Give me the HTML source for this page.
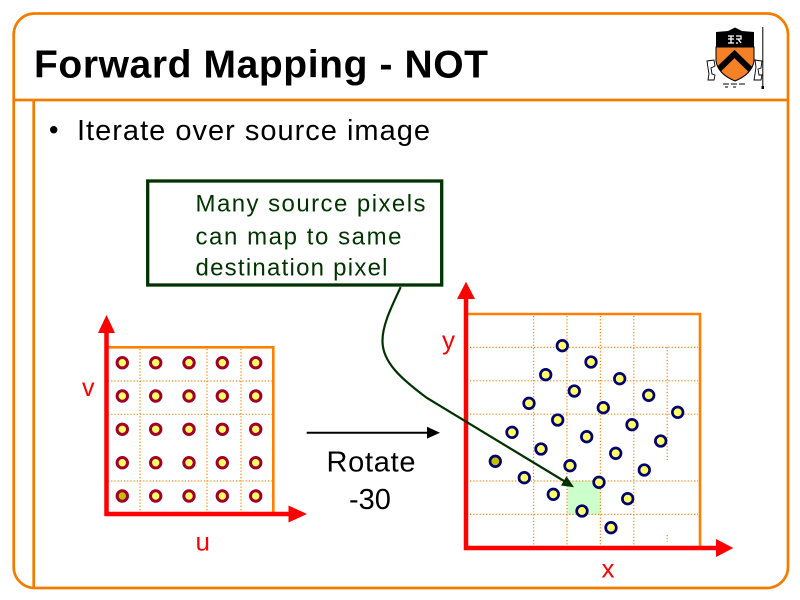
<!DOCTYPE html>
<html>
<head>
<meta charset="utf-8">
<style>
  html, body { margin: 0; padding: 0; background: #fff; }
  svg { display: block; }
  text { font-family: "Liberation Sans", Arial, sans-serif; }
</style>
</head>
<body>
<svg width="800" height="600" viewBox="0 0 800 600" xmlns="http://www.w3.org/2000/svg">
  <rect x="0" y="0" width="800" height="600" fill="#ffffff"/>

  <!-- Frame -->
  <rect x="13.7" y="13.5" width="774.3" height="574.5" rx="21" ry="21" fill="none" stroke="#F47C00" stroke-width="2.7"/>
  <line x1="13.7" y1="100" x2="788" y2="100" stroke="#F47C00" stroke-width="2.7"/>
  <line x1="33.7" y1="100" x2="33.7" y2="588" stroke="#F47C00" stroke-width="2.7"/>

  <!-- Title -->
  <text x="34" y="77.7" font-size="39" font-weight="bold" fill="#000" textLength="454" lengthAdjust="spacing">Forward Mapping - NOT</text>

  <!-- Logo -->
  <g>
    <path d="M716,32 L728,31 L735,27.5 L742,31 L754,32 L754,47 L716,47 Z" fill="#000"/>
    <path d="M716,47 L754,47 L754,61 Q752,74 735,81 Q718,74 716,61 Z" fill="#F58025" stroke="#000" stroke-width="1"/>
    <clipPath id="shieldClip"><path d="M716,47 L754,47 L754,61 Q752,74 735,81 Q718,74 716,61 Z"/></clipPath>
    <polyline points="717,71 734.5,54 752,71" fill="none" stroke="#000" stroke-width="6" clip-path="url(#shieldClip)"/>
    <g stroke="#fff" stroke-width="1.3" fill="none">
      <path d="M728,36 L734,36 M731,36 L731,43 M728,39 L734,39 M728,43 L734,43"/>
      <path d="M736,36 L741,36 L741,39 L736,39 M738,39 L741,43 M736,43 L738,43"/>
    </g>
    <g stroke="#000" stroke-width="0.9" fill="none">
      <path d="M707,61 L714,60 L715,66 L711,68 L712,74 L715,75 L714,80 L708,80 L709,74 L708,68 Z"/>
      <path d="M755,60 L762,61 L761,68 L758,69 L759,75 L762,75 L761,80 L754,80 L755,74 L756,67 Z"/>
      <path d="M723,84 L729,84 M731,84 L737,84 M739,84 L745,84 M725,87 L728,87 M733,87 L736,87"/>
    </g>
    <line x1="762.8" y1="27" x2="762.8" y2="88" stroke="#000" stroke-width="1"/>
    <rect x="761.5" y="86" width="2.5" height="3" fill="#000"/>
  </g>

  <!-- Bullet -->
  <circle cx="53.7" cy="129.7" r="3.7" fill="#000"/>
  <text x="77" y="140" font-size="29" fill="#000" textLength="353" lengthAdjust="spacing">Iterate over source image</text>

  <!-- Callout box -->
  <rect x="147.7" y="181" width="294" height="104" fill="#fff" stroke="#003300" stroke-width="3.3"/>
  <text x="195.5" y="211.7" font-size="24" fill="#003300" textLength="230" lengthAdjust="spacing">Many source pixels</text>
  <text x="195.5" y="244.5" font-size="24" fill="#003300" textLength="206" lengthAdjust="spacing">can map to same</text>
  <text x="195.5" y="275.7" font-size="24" fill="#003300" textLength="192" lengthAdjust="spacing">destination pixel</text>

  <!-- LEFT GRID -->
  <rect x="106" y="347.3" width="167.3" height="166.7" fill="#fff"/>
  <g stroke="#FF8000" stroke-width="1.2" stroke-dasharray="1.2 2" fill="none">
    <line x1="140" y1="349" x2="140" y2="512"/>
    <line x1="207" y1="349" x2="207" y2="512"/>
    <line x1="241" y1="349" x2="241" y2="512"/>
    <line x1="108" y1="381" x2="272" y2="381"/>
    <line x1="108" y1="414.3" x2="272" y2="414.3"/>
    <line x1="108" y1="481" x2="272" y2="481"/>
  </g>
  <polyline points="106,347.3 273.3,347.3 273.3,514" fill="none" stroke="#FF8000" stroke-width="2.6"/>
  <line x1="106.5" y1="330" x2="106.5" y2="516" stroke="#FF0000" stroke-width="4.5"/>
  <polygon points="106.5,315 98,333 115,333" fill="#FF0000"/>
  <line x1="104.5" y1="514" x2="290" y2="514" stroke="#FF0000" stroke-width="4.5"/>
  <polygon points="307,514 288.5,505.5 288.5,522.5" fill="#FF0000"/>
  <g stroke="#A00028" stroke-width="3" fill="#FFFF66">
    <circle cx="122.3" cy="362.7" r="5.2"/><circle cx="155.7" cy="362.7" r="5.2"/><circle cx="189" cy="362.7" r="5.2"/><circle cx="222.3" cy="362.7" r="5.2"/><circle cx="255.7" cy="362.7" r="5.2"/>
    <circle cx="122.3" cy="396" r="5.2"/><circle cx="155.7" cy="396" r="5.2"/><circle cx="189" cy="396" r="5.2"/><circle cx="222.3" cy="396" r="5.2"/><circle cx="255.7" cy="396" r="5.2"/>
    <circle cx="122.3" cy="429.3" r="5.2"/><circle cx="155.7" cy="429.3" r="5.2"/><circle cx="189" cy="429.3" r="5.2"/><circle cx="222.3" cy="429.3" r="5.2"/><circle cx="255.7" cy="429.3" r="5.2"/>
    <circle cx="122.3" cy="462.7" r="5.2"/><circle cx="155.7" cy="462.7" r="5.2"/><circle cx="189" cy="462.7" r="5.2"/><circle cx="222.3" cy="462.7" r="5.2"/><circle cx="255.7" cy="462.7" r="5.2"/>
    <circle cx="122.3" cy="496" r="5.2" fill="#C0C000"/><circle cx="155.7" cy="496" r="5.2"/><circle cx="189" cy="496" r="5.2"/><circle cx="222.3" cy="496" r="5.2"/><circle cx="255.7" cy="496" r="5.2"/>
  </g>
  <text x="82" y="396" font-size="25" fill="#FF0000">v</text>
  <text x="195.5" y="550.5" font-size="26" fill="#FF0000">u</text>

  <!-- Rotate arrow -->
  <line x1="306.7" y1="432.7" x2="429" y2="432.7" stroke="#000" stroke-width="2"/>
  <polygon points="440,432.7 427,426.8 427,438.6" fill="#000"/>
  <text x="326.5" y="471.7" font-size="29" fill="#000" textLength="89" lengthAdjust="spacing">Rotate</text>
  <text x="349" y="509" font-size="29" fill="#000">-30</text>

  <!-- RIGHT GRID -->
  <rect x="466" y="314" width="234" height="234" fill="#fff"/>
  <rect x="567.3" y="481" width="33.4" height="33.4" fill="#CCFFCC"/>
  <g stroke="#FF8000" stroke-width="1.2" stroke-dasharray="1.2 2" fill="none">
    <line x1="533.6" y1="316" x2="533.6" y2="546"/>
    <line x1="567" y1="316" x2="567" y2="546"/>
    <line x1="600.4" y1="316" x2="600.4" y2="546"/>
    <line x1="633.8" y1="316" x2="633.8" y2="546"/>
    <line x1="667.2" y1="347" x2="667.2" y2="460"/>
    <line x1="667.2" y1="535" x2="667.2" y2="542"/>
    <line x1="470" y1="347.4" x2="698" y2="347.4"/>
    <line x1="470" y1="380.8" x2="698" y2="380.8"/>
    <line x1="470" y1="414.2" x2="698" y2="414.2"/>
    <line x1="470" y1="481" x2="698" y2="481"/>
    <line x1="470" y1="514.4" x2="698" y2="514.4"/>
  </g>
  <polyline points="466,314 700,314 700,548" fill="none" stroke="#FF8000" stroke-width="2.6"/>
  <line x1="466" y1="296" x2="466" y2="550" stroke="#FF0000" stroke-width="4.5"/>
  <polygon points="466,281.7 457,299 475,299" fill="#FF0000"/>
  <line x1="464" y1="548" x2="718" y2="548" stroke="#FF0000" stroke-width="4.5"/>
  <polygon points="733.3,548 716,539 716,557" fill="#FF0000"/>
  <g stroke="#000070" stroke-width="2.7" fill="#FFFF66">
    <circle cx="562.3" cy="345.7" r="5.3"/>
    <circle cx="591" cy="362" r="5.3"/>
    <circle cx="545.7" cy="374.7" r="5.3"/>
    <circle cx="619.7" cy="378.7" r="5.3"/>
    <circle cx="574.3" cy="391" r="5.3"/>
    <circle cx="648.7" cy="395.3" r="5.3"/>
    <circle cx="529" cy="403.3" r="5.3"/>
    <circle cx="603.3" cy="407.7" r="5.3"/>
    <circle cx="677.7" cy="412.3" r="5.3"/>
    <circle cx="557.7" cy="420" r="5.3"/>
    <circle cx="632" cy="424.7" r="5.3"/>
    <circle cx="512" cy="432.3" r="5.3"/>
    <circle cx="586.7" cy="436.7" r="5.3"/>
    <circle cx="660.7" cy="441" r="5.3"/>
    <circle cx="541" cy="449" r="5.3"/>
    <circle cx="615.7" cy="453.3" r="5.3"/>
    <circle cx="495.3" cy="461.3" r="5.3" fill="#C0C000"/>
    <circle cx="570" cy="465.7" r="5.3"/>
    <circle cx="644.3" cy="470" r="5.3"/>
    <circle cx="524.3" cy="477.7" r="5.3"/>
    <circle cx="599" cy="482.3" r="5.3"/>
    <circle cx="553.3" cy="494.3" r="5.3"/>
    <circle cx="627.7" cy="498.7" r="5.3"/>
    <circle cx="582" cy="511" r="5.3"/>
    <circle cx="611" cy="527.7" r="5.3"/>
  </g>
  <text x="442" y="349" font-size="26" fill="#FF0000">y</text>
  <text x="601.5" y="577.7" font-size="26" fill="#FF0000">x</text>

  <!-- Green callout connector -->
  <path d="M400.7,287 C392,306 382,325 382.5,342 C383,362 400,378 427,398 L564,481" fill="none" stroke="#003300" stroke-width="2.2"/>
  <polygon points="574,487.3 561,485.5 566.5,476.3" fill="#003300"/>
</svg>
</body>
</html>
